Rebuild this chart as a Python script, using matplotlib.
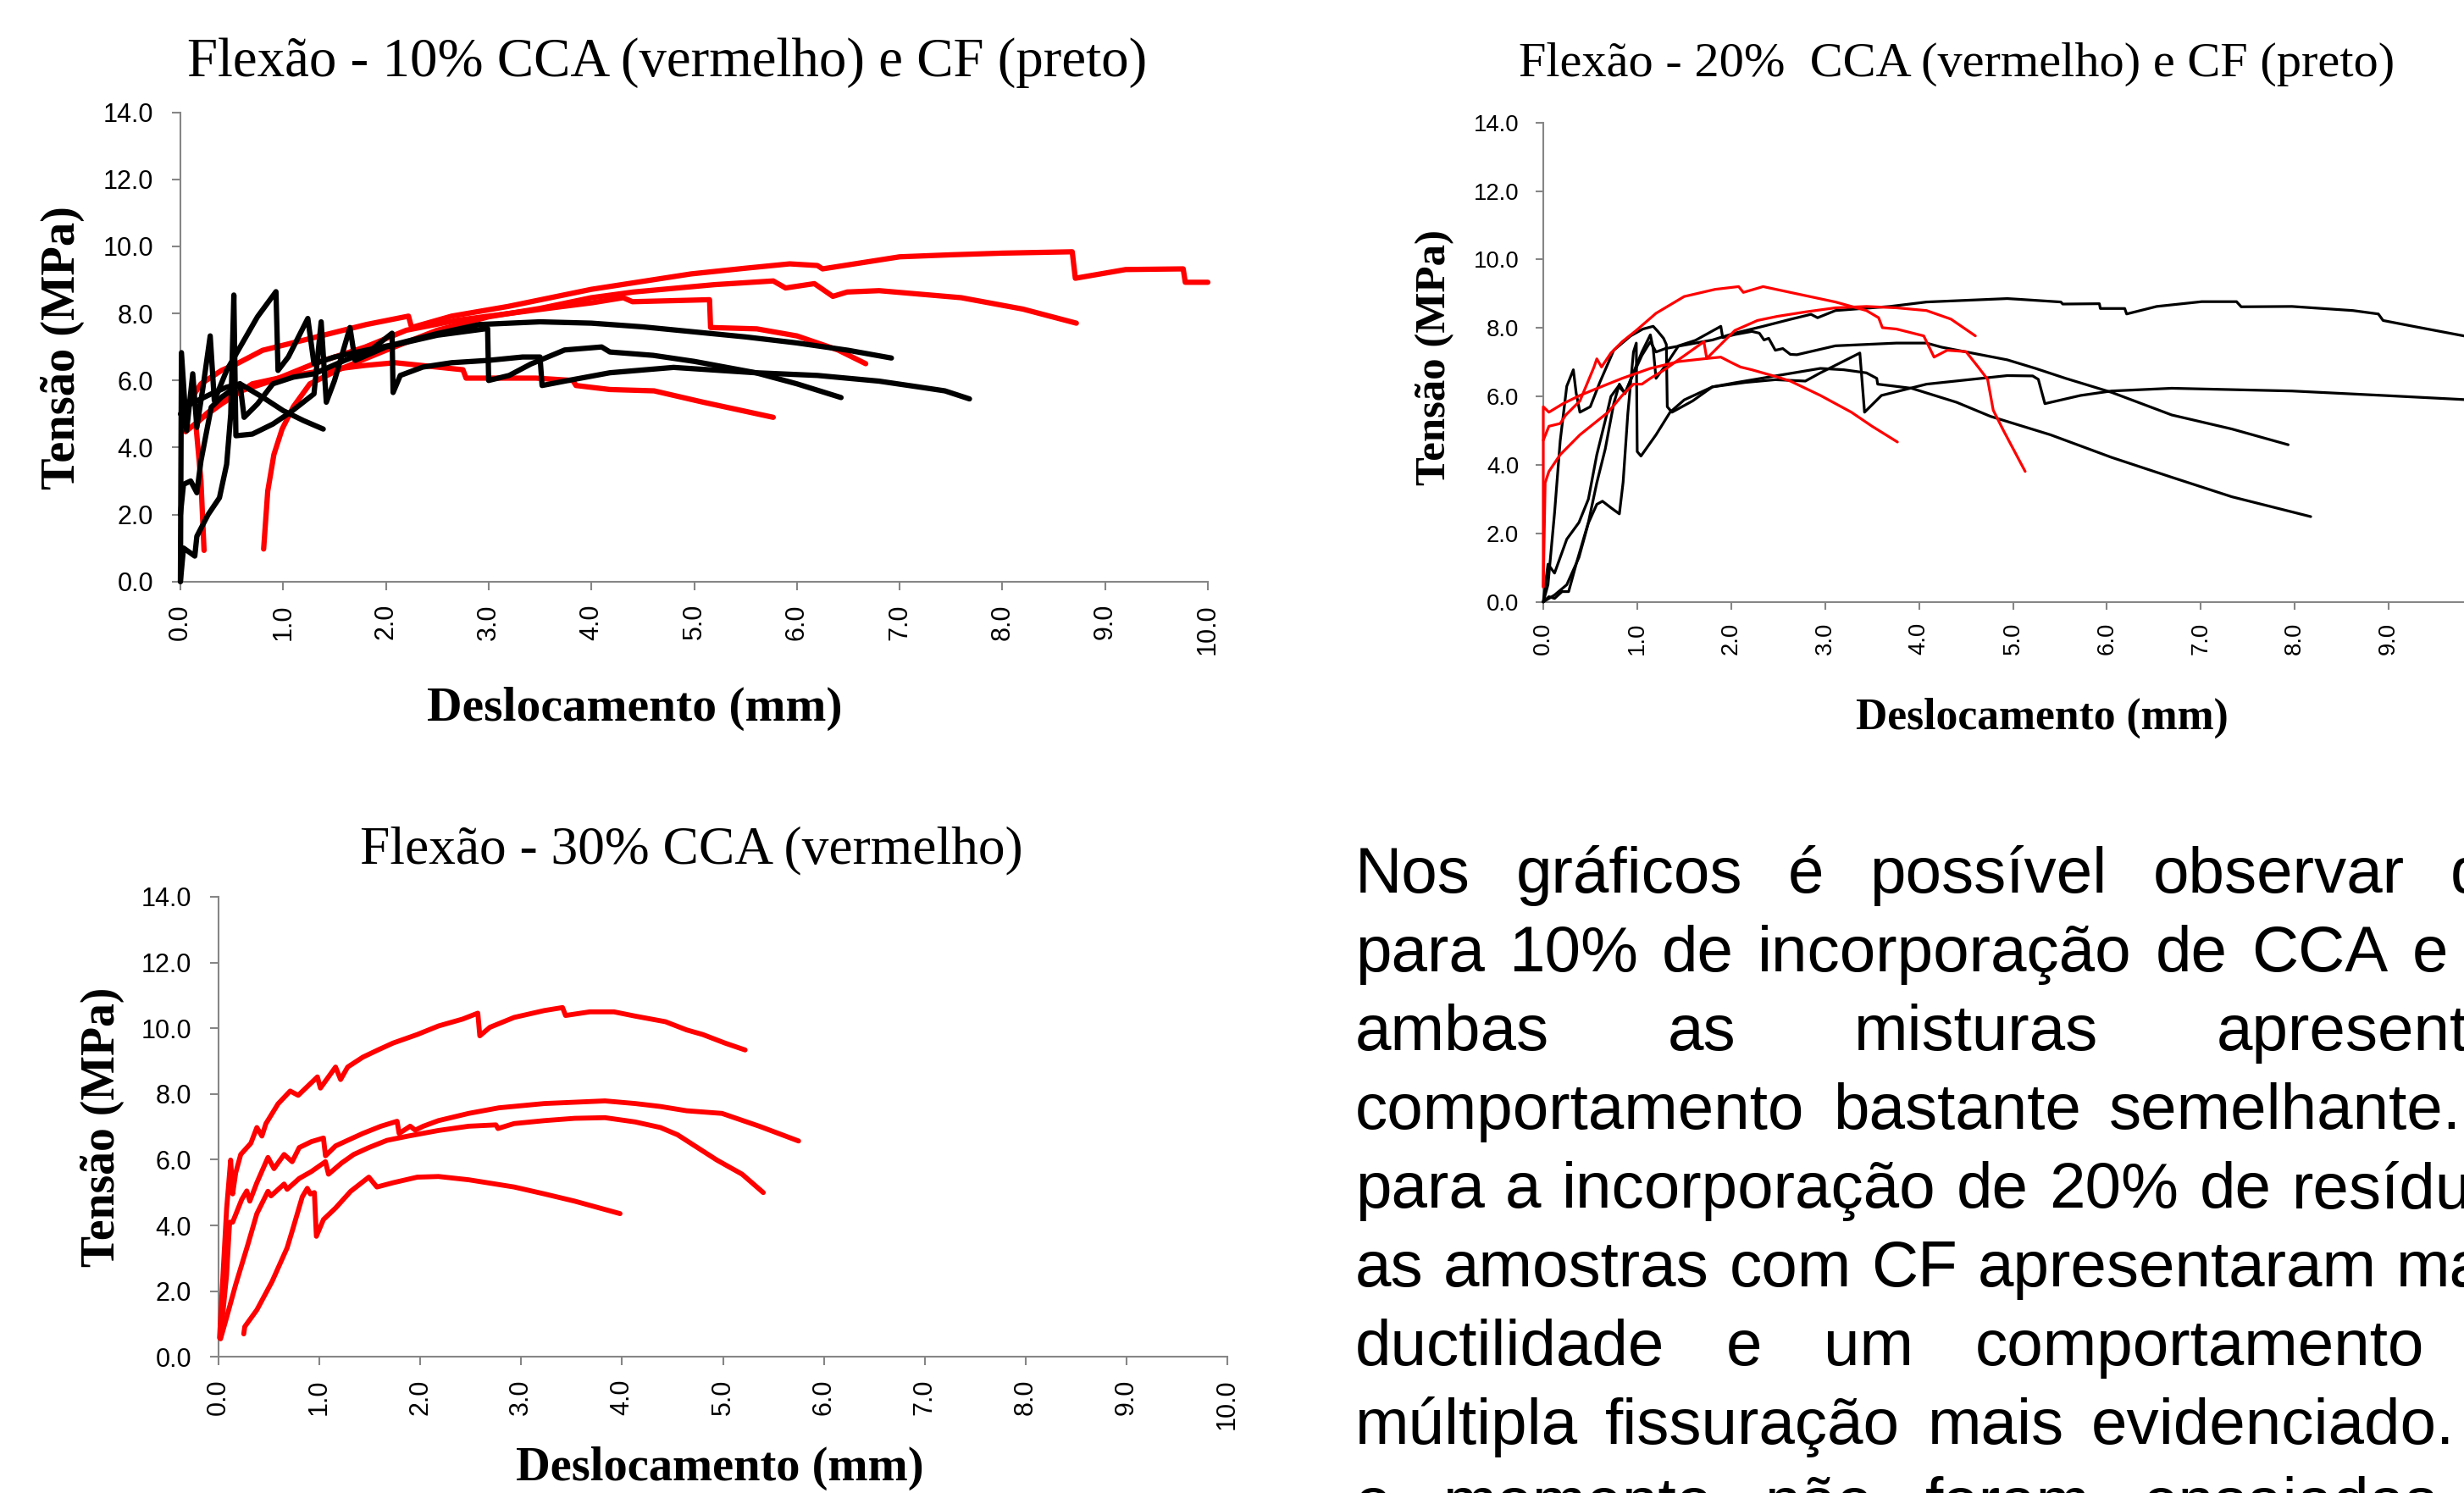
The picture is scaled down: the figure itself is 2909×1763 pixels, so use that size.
import matplotlib
matplotlib.use('Agg')
import matplotlib.pyplot as plt
from matplotlib.ticker import FormatStrFormatter

W, H = 2909, 1763
DPI = 100

# ---- Flexão 10% : CCA (red) ----
cca10_a_x = [0.05, 0.2, 0.4, 0.55, 0.8, 1.26, 1.81, 2.22, 2.25, 2.64, 3.19, 4.0, 4.97, 5.5, 5.93,
             6.2, 6.25, 6.5, 7.0, 7.5, 8.0, 8.68, 8.71, 9.2, 9.76, 9.78, 10.0]
cca10_a_y = [5.2, 5.9, 6.3, 6.5, 6.9, 7.25, 7.67, 7.92, 7.58, 7.92, 8.21, 8.72, 9.18, 9.35, 9.48,
             9.43, 9.33, 9.45, 9.69, 9.75, 9.8, 9.84, 9.05, 9.31, 9.33, 8.93, 8.93]
cca10_b_x = [0.81, 0.85, 0.91, 0.99, 1.1, 1.26, 1.54, 2.0, 2.5, 3.0, 3.5, 4.0, 4.41, 5.2, 5.77,
             5.89, 6.17, 6.35, 6.49, 6.8, 7.6, 8.2, 8.72]
cca10_b_y = [0.97, 2.7, 3.79, 4.55, 5.22, 5.9, 6.32, 6.9, 7.5, 7.9, 8.15, 8.47, 8.64, 8.86, 8.97,
             8.76, 8.89, 8.51, 8.64, 8.68, 8.47, 8.13, 7.71]
cca10_c_x = [0.23, 0.2, 0.15, 0.25, 0.5, 0.9, 1.3, 1.8, 2.2, 2.7, 3.2, 3.7, 4.01, 4.31, 4.4, 5.15,
             5.16, 5.61, 6.0, 6.4, 6.67]
cca10_c_y = [0.93, 3.0, 4.7, 5.0, 5.6, 6.0, 6.5, 7.0, 7.5, 7.8, 8.0, 8.2, 8.32, 8.47, 8.35, 8.41,
             7.58, 7.54, 7.33, 6.91, 6.5]
cca10_d_x = [0.05, 0.22, 0.4, 0.7, 1.0, 1.4, 1.8, 2.09, 2.75, 2.78, 3.46, 3.82, 3.85, 4.18, 4.61,
             5.09, 5.77]
cca10_d_y = [4.47, 4.9, 5.3, 5.9, 6.1, 6.3, 6.45, 6.53, 6.32, 6.07, 6.07, 6.0, 5.85, 5.73, 5.69,
             5.35, 4.9]

# ---- Flexão 10% : CF (black) ----
cf10_a_x = [0.0, 0.01, 0.06, 0.12, 0.16, 0.22, 0.29, 0.33, 0.45, 0.6, 0.75, 0.93, 0.95, 1.05,
            1.24, 1.3, 1.5, 1.8, 2.09, 2.5, 2.91, 3.5, 4.0, 4.5, 5.0, 5.5, 6.0, 6.5, 6.92]
cf10_a_y = [0.0, 6.83, 4.5, 6.2, 4.6, 5.8, 7.33, 5.4, 6.3, 7.1, 7.9, 8.65, 6.3, 6.7,
            7.85, 6.5, 6.7, 6.9, 7.08, 7.4, 7.67, 7.75, 7.71, 7.6, 7.45, 7.3, 7.12, 6.9, 6.67]
cf10_b_x = [0.0, 0.03, 0.14, 0.16, 0.27, 0.38, 0.45, 0.49, 0.52, 0.54, 0.7, 0.9, 1.07, 1.3, 1.37,
            1.42, 1.5, 1.65, 1.7, 2.0, 2.5, 2.99, 3.0, 3.2, 3.41, 3.74, 4.1, 4.18, 4.6, 5.0, 5.6,
            6.0, 6.43]
cf10_b_y = [0.0, 1.0, 0.76, 1.35, 2.0, 2.5, 3.5, 5.0, 8.55, 4.35, 4.4, 4.7, 5.05, 5.6, 7.75,
            5.35, 6.0, 7.58, 6.6, 7.0, 7.35, 7.55, 6.0, 6.15, 6.49, 6.91, 7.0, 6.85, 6.75, 6.57, 6.23,
            5.9, 5.49]
cf10_c_x = [0.0, 0.03, 0.1, 0.16, 0.2, 0.3, 0.4, 0.58, 0.62, 0.75, 0.9, 1.1, 1.3, 1.6, 1.85, 2.06,
            2.07, 2.14, 2.36, 2.64, 3.0, 3.33, 3.5, 3.52, 3.74, 4.18, 4.8, 5.6, 6.2, 6.8, 7.2, 7.44,
            7.68]
cf10_c_y = [2.0, 2.9, 3.0, 2.65, 3.6, 5.2, 5.5, 5.9, 4.9, 5.3, 5.9, 6.1, 6.2, 6.6, 6.9, 7.41,
            5.64, 6.15, 6.4, 6.53, 6.6, 6.7, 6.7, 5.85, 5.98, 6.23, 6.39, 6.23, 6.15, 5.98, 5.8, 5.69,
            5.45]
cf10_d_x = [0.0, 0.1, 0.3, 0.45, 0.58, 0.8, 1.0, 1.2, 1.39]
cf10_d_y = [5.0, 5.3, 5.6, 5.8, 5.9, 5.5, 5.1, 4.8, 4.55]

# ---- Flexão 20% : CCA (red) ----
cca20_a_x = [0.0, 0.0, 0.06, 0.21, 0.39, 0.54, 0.84, 1.14, 1.44, 1.74, 1.89, 2.01, 2.1, 2.22,
             2.49, 2.63, 2.95, 3.28, 3.5, 3.77]
cca20_a_y = [0.45, 5.7, 5.54, 5.79, 6.03, 6.2, 6.53, 6.82, 7.02, 7.11, 7.15, 6.98, 6.86, 6.78,
             6.57, 6.45, 6.03, 5.54, 5.13, 4.67]
cca20_b_x = [0.0, 0.06, 0.18, 0.24, 0.39, 0.54, 0.57, 0.62, 0.72, 0.84, 0.99, 1.2, 1.5, 1.83, 2.08,
             2.13, 2.34, 2.63, 3.11, 3.44, 3.57, 3.61, 3.76, 4.05, 4.16, 4.3, 4.5, 4.63, 4.73, 4.79,
             4.9, 5.13]
cca20_b_y = [4.72, 5.13, 5.21, 5.46, 5.87, 6.86, 7.1, 6.86, 7.27, 7.6, 7.93, 8.43, 8.92, 9.13, 9.21,
             9.04, 9.21, 9.04, 8.76, 8.51, 8.3, 8.01, 7.97, 7.77, 7.15, 7.35, 7.31, 6.86, 6.5, 5.6,
             5.0, 3.81]
cca20_c_x = [0.0, 0.02, 0.06, 0.18, 0.39, 0.54, 0.69, 0.84, 0.96, 1.05, 1.14, 1.29, 1.5, 1.71,
             1.74, 1.89, 2.04, 2.28, 2.49, 2.79, 3.11, 3.44, 3.76, 4.08, 4.34, 4.6]
cca20_c_y = [0.43, 3.48, 3.81, 4.3, 4.88, 5.21, 5.54, 6.03, 6.36, 6.36, 6.53, 6.78, 7.19, 7.6,
             7.11, 7.52, 7.93, 8.22, 8.34, 8.47, 8.59, 8.63, 8.59, 8.51, 8.26, 7.77]

# ---- Flexão 20% : CF (black) ----
cf20_a_x = [0.0, 0.05, 0.12, 0.25, 0.38, 0.48, 0.57, 0.66, 0.72, 0.8, 0.87, 0.95, 1.05, 1.14,
            1.2, 1.3, 1.5, 1.8, 2.04, 2.34, 2.64, 2.85, 2.92, 3.11, 3.69, 4.08, 4.94, 5.06, 5.51,
            5.53, 5.92, 5.93, 6.19, 6.21, 6.53, 7.01, 7.38, 7.43, 7.97, 8.62, 8.89, 8.94, 9.26,
            9.8, 10.0]
cf20_a_y = [0.0, 1.1, 0.84, 1.83, 2.32, 3.0, 4.3, 5.3, 6.0, 6.3, 6.1, 6.6, 7.2, 7.6,
            7.3, 7.4, 7.5, 7.65, 7.85, 8.05, 8.26, 8.4, 8.3, 8.51, 8.63, 8.76, 8.86, 8.84, 8.76,
            8.7, 8.71, 8.57, 8.57, 8.41, 8.63, 8.77, 8.77, 8.62, 8.63, 8.51, 8.41, 8.22, 8.05,
            7.77, 7.7]
cf20_b_x = [0.0, 0.06, 0.12, 0.25, 0.38, 0.48, 0.57, 0.63, 0.72, 0.81, 0.85, 0.9, 0.96, 0.99,
            1.0, 1.04, 1.2, 1.35, 1.5, 1.8, 2.15, 2.47, 2.79, 2.95, 3.37, 3.42, 3.6, 4.08, 4.94,
            5.21, 5.27, 5.34, 5.72, 6.05, 6.69, 7.97, 8.94, 9.8, 10.0]
cf20_b_y = [0.0, 0.1, 0.2, 0.5, 1.3, 2.3, 2.85, 2.94, 2.75, 2.57, 3.5, 5.5, 7.3, 7.56,
            4.39, 4.26, 4.88, 5.54, 5.9, 6.28, 6.41, 6.49, 6.45, 6.69, 7.27, 5.54, 6.03, 6.36, 6.61,
            6.6, 6.5, 5.79, 6.03, 6.16, 6.24, 6.16, 6.03, 5.91, 5.88]
cf20_c_x = [0.0, 0.06, 0.12, 0.2, 0.27, 0.36, 0.48, 0.57, 0.66, 0.75, 0.81, 0.87, 0.93, 1.05,
            1.14, 1.17, 1.2, 1.3, 1.44, 1.62, 1.89, 1.91, 2.04, 2.22, 2.3, 2.35, 2.4, 2.47, 2.55,
            2.63, 2.7, 3.11, 3.76, 4.08, 4.24, 4.94, 5.24, 5.56, 6.05, 6.69, 7.33, 7.93]
cf20_c_y = [0.0, 0.15, 0.1, 0.3, 0.3, 1.2, 2.32, 3.48, 4.47, 5.79, 6.36, 6.08, 6.5, 7.3,
            7.8, 7.4, 6.53, 6.9, 7.48, 7.64, 8.05, 7.72, 7.81, 7.9, 7.85, 7.65, 7.7, 7.35, 7.4,
            7.23, 7.22, 7.48, 7.56, 7.56, 7.44, 7.07, 6.82, 6.53, 6.12, 5.46, 5.05, 4.59]
cf20_d_x = [0.0, 0.05, 0.12, 0.18, 0.25, 0.32, 0.35, 0.39, 0.5, 0.6, 0.75, 0.93, 1.06, 1.17,
            1.22, 1.28, 1.31, 1.32, 1.37, 1.59, 1.8, 2.04, 2.47, 2.95, 3.2, 3.44, 3.55, 3.56, 3.92,
            4.4, 4.76, 5.4, 6.05, 6.69, 7.33, 8.17]
cf20_d_y = [0.0, 0.5, 2.6, 4.7, 6.3, 6.78, 6.1, 5.54, 5.7, 6.4, 7.35, 7.77, 7.97, 8.05,
            7.9, 7.7, 7.52, 5.7, 5.54, 5.87, 6.28, 6.4, 6.6, 6.82, 6.78, 6.69, 6.53, 6.36, 6.24,
            5.83, 5.42, 4.88, 4.22, 3.64, 3.07, 2.49]

# ---- Flexão 30% : CCA (red) ----
cca30_a_x = [0.01, 0.08, 0.12, 0.14, 0.17, 0.22, 0.32, 0.38, 0.43, 0.47, 0.59, 0.71, 0.79, 0.98,
             1.01, 1.16, 1.21, 1.28, 1.43, 1.58, 1.73, 1.97, 2.18, 2.42, 2.57, 2.59, 2.69, 2.93,
             3.23, 3.41, 3.44, 3.68, 3.92, 4.13, 4.43, 4.64, 4.8, 5.02, 5.22]
cca30_a_y = [0.58, 4.5, 5.99, 4.96, 5.6, 6.16, 6.5, 6.98, 6.72, 7.1, 7.7, 8.09, 7.96, 8.52,
             8.18, 8.82, 8.44, 8.82, 9.12, 9.34, 9.55, 9.81, 10.07, 10.28, 10.46, 9.77, 10.03, 10.33,
             10.54, 10.63, 10.39, 10.5, 10.5, 10.37, 10.2, 9.95, 9.81, 9.55, 9.34]
cca30_b_x = [0.02, 0.08, 0.11, 0.14, 0.23, 0.28, 0.31, 0.38, 0.49, 0.55, 0.65, 0.73, 0.8, 0.92,
             1.04, 1.06, 1.16, 1.28, 1.43, 1.61, 1.77, 1.79, 1.9, 1.95, 2.03, 2.18, 2.48, 2.78,
             3.23, 3.83, 4.13, 4.38, 4.64, 4.99, 5.36, 5.75]
cca30_b_y = [0.6, 2.5, 4.1, 4.1, 4.79, 5.05, 4.74, 5.3, 6.07, 5.73, 6.16, 5.94, 6.37, 6.55,
             6.66, 6.12, 6.42, 6.59, 6.8, 7.02, 7.17, 6.8, 7.02, 6.9, 7.02, 7.19, 7.41, 7.58,
             7.71, 7.79, 7.71, 7.62, 7.49, 7.41, 7.02, 6.57]
cca30_c_x = [0.02, 0.07, 0.17, 0.29, 0.38, 0.49, 0.52, 0.65, 0.68, 0.8, 0.92, 1.06, 1.09, 1.22,
             1.34, 1.49, 1.67, 1.88, 2.18, 2.48, 2.75, 2.77, 2.93, 3.23, 3.53, 3.83, 4.13, 4.38,
             4.55, 4.94, 5.19, 5.4]
cca30_c_y = [0.55, 1.09, 2.2, 3.41, 4.36, 5.04, 4.9, 5.26, 5.1, 5.43, 5.64, 5.94, 5.56, 5.9,
             6.16, 6.37, 6.59, 6.72, 6.89, 7.02, 7.06, 6.95, 7.1, 7.19, 7.26, 7.28, 7.15, 6.98,
             6.76, 5.99, 5.56, 5.0]
cca30_d_x = [0.25, 0.26, 0.38, 0.53, 0.68, 0.74, 0.83, 0.88, 0.91, 0.95, 0.97, 1.04, 1.16, 1.31,
             1.49, 1.57, 1.73, 1.97, 2.18, 2.48, 2.93, 3.23, 3.53, 3.98]
cca30_d_y = [0.7, 0.92, 1.43, 2.29, 3.32, 3.93, 4.87, 5.13, 4.96, 5.0, 3.67, 4.18, 4.53, 5.04,
             5.47, 5.17, 5.3, 5.47, 5.49, 5.39, 5.17, 4.96, 4.74, 4.36]

x_ticks = [0, 1, 2, 3, 4, 5, 6, 7, 8, 9, 10]
y_ticks = [0, 2, 4, 6, 8, 10, 12, 14]

titles = ['Flexão - 10% CCA (vermelho) e CF (preto)',
          'Flexão - 20%  CCA (vermelho) e CF (preto)',
          'Flexão - 30% CCA (vermelho)']
x_label = 'Deslocamento (mm)'
y_label = 'Tensão (MPa)'

body_lines = [
    'Nos gráficos é possível observar que',
    'para 10% de incorporação de CCA e CF',
    'ambas as misturas apresentam',
    'comportamento bastante semelhante. Já',
    'para a incorporação de 20% de resíduos,',
    'as amostras com CF apresentaram maior',
    'ductilidade e um comportamento de',
    'múltipla fissuração mais evidenciado. Até',
    'o momento não foram ensaiadas as',
]
# right edge of each justified line (px), the box runs past the page
line_right = [3020, 3020, 3020, 3020, 3020, 3020, 3020, 3045, 3020]

RED = '#ff0000'
BLACK = '#000000'
GRAY = '#868686'
SERIF = ['Liberation Serif', 'DejaVu Serif']
SANS = ['Liberation Sans', 'DejaVu Sans']

fig = plt.figure(figsize=(W / DPI, H / DPI), dpi=DPI)


def ftext(x, y, s, **kw):
    return fig.text(x / W, 1 - y / H, s, **kw)


def make_axes(x0, x10, y0, y14, scale):
    ax = fig.add_axes([x0 / W, 1 - y0 / H, (x10 - x0) / W, (y0 - y14) / H])
    ax.set_xlim(0, 10)
    ax.set_ylim(0, 14)
    ax.set_xticks(x_ticks)
    ax.set_yticks(y_ticks)
    ax.xaxis.set_major_formatter(FormatStrFormatter('%.1f'))
    ax.yaxis.set_major_formatter(FormatStrFormatter('%.1f'))
    for s in ['top', 'right']:
        ax.spines[s].set_visible(False)
    for s in ['left', 'bottom']:
        ax.spines[s].set_color(GRAY)
        ax.spines[s].set_linewidth(1.5)
    ax.tick_params(axis='both', direction='out', color=GRAY, width=1.5, length=7 * scale)
    ax.tick_params(axis='x', labelrotation=90, pad=12 * scale, labelsize=22 * scale)
    ax.tick_params(axis='y', pad=16 * scale, labelsize=22 * scale)
    for lab in ax.get_xticklabels() + ax.get_yticklabels():
        lab.set_family(SANS)
    ax.patch.set_alpha(0)
    return ax


def draw(ax, curves, color, lw):
    for xs, ys in curves:
        ax.plot(xs, ys, color=color, lw=lw, solid_capstyle='round',
                solid_joinstyle='round', clip_on=False, zorder=3)


# plot 1: 10%
ax1 = make_axes(213, 1426, 686.7, 132.7, 1.0)
draw(ax1, [(cca10_a_x, cca10_a_y), (cca10_b_x, cca10_b_y),
           (cca10_c_x, cca10_c_y), (cca10_d_x, cca10_d_y)], RED, 4.5)
draw(ax1, [(cf10_a_x, cf10_a_y), (cf10_b_x, cf10_b_y),
           (cf10_c_x, cf10_c_y), (cf10_d_x, cf10_d_y)], BLACK, 4.5)

# plot 2: 20% (runs past the right edge of the page)
ax2 = make_axes(1822, 2931, 710.7, 144.8, 0.9)
draw(ax2, [(cf20_a_x, cf20_a_y), (cf20_b_x, cf20_b_y),
           (cf20_c_x, cf20_c_y), (cf20_d_x, cf20_d_y)], BLACK, 2.3)
draw(ax2, [(cca20_a_x, cca20_a_y), (cca20_b_x, cca20_b_y),
           (cca20_c_x, cca20_c_y)], RED, 2.3)

# plot 3: 30%
ax3 = make_axes(258, 1449, 1602.3, 1059, 1.0)
draw(ax3, [(cca30_a_x, cca30_a_y), (cca30_b_x, cca30_b_y),
           (cca30_c_x, cca30_c_y), (cca30_d_x, cca30_d_y)], RED, 4.2)

# titles and axis labels
ftext(788, 74, titles[0], ha='center', va='center', fontsize=46.7, family=SERIF)
ftext(2310, 76, titles[1], ha='center', va='center', fontsize=42, family=SERIF)
ftext(816, 1004, titles[2], ha='center', va='center', fontsize=45.7, family=SERIF)

ftext(749, 837, x_label, ha='center', va='center', fontsize=41.4, weight='bold', family=SERIF)
ftext(2411, 848, x_label, ha='center', va='center', fontsize=37.2, weight='bold', family=SERIF)
ftext(850, 1734, x_label, ha='center', va='center', fontsize=40.7, weight='bold', family=SERIF)

ftext(74, 411, y_label, rotation=90, ha='center', va='center', fontsize=40.6, weight='bold',
      family=SERIF)
ftext(1694, 422, y_label, rotation=90, ha='center', va='center', fontsize=36.6, weight='bold',
      family=SERIF)
ftext(121, 1331, y_label, rotation=90, ha='center', va='center', fontsize=40.1, weight='bold',
      family=SERIF)

# justified paragraph, cut by the right edge of the page
renderer = fig.canvas.get_renderer()
LEFT = 1600
for k, line in enumerate(body_lines):
    words = line.split()
    base = 1053.6 + 93.1 * k
    objs = [ftext(0, base, w, fontsize=55, family=SANS, va='baseline') for w in words]
    widths = [o.get_window_extent(renderer).width for o in objs]
    gap = (line_right[k] - LEFT - sum(widths)) / (len(words) - 1)
    x = LEFT
    for o, wd in zip(objs, widths):
        o.set_x(x / W)
        x += wd + gap

fig.savefig('out.png', dpi=DPI)
plt.close(fig)
